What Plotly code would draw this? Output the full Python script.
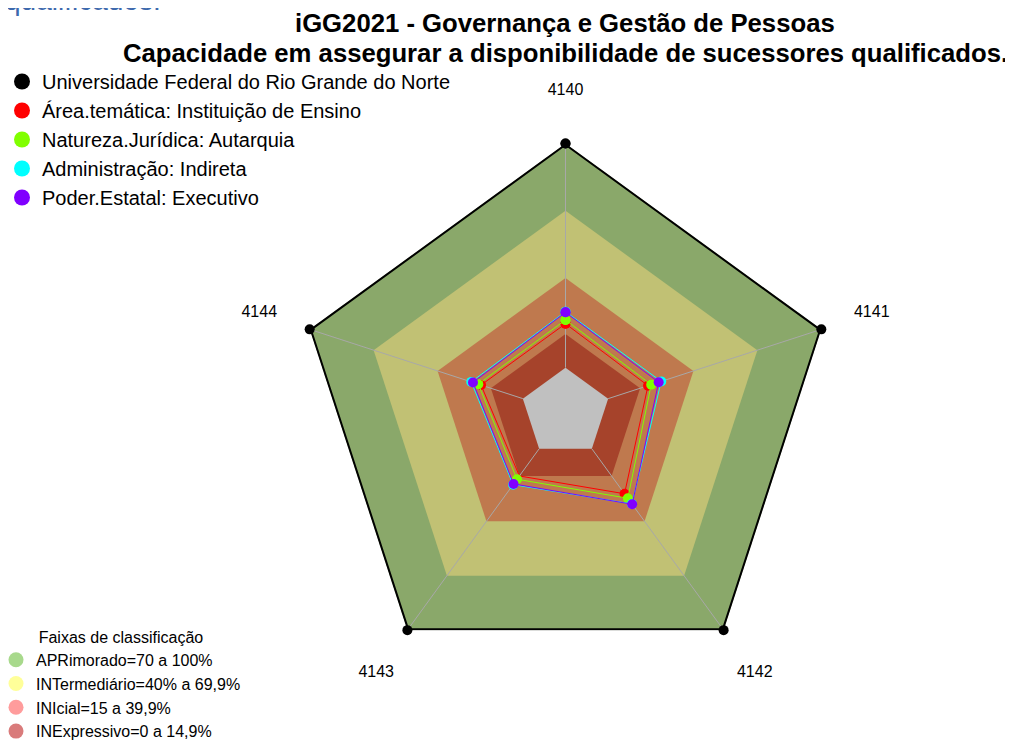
import plotly.graph_objects as go

# ---------------- data ----------------
categories = ["4140", "4141", "4142", "4143", "4144"]

series_names = [
    "Universidade Federal do Rio Grande do Norte",
    "Área.temática: Instituição de Ensino",
    "Natureza.Jurídica: Autarquia",
    "Administração: Indireta",
    "Poder.Estatal: Executivo",
]
ufrn = [100, 100, 100, 100, 100]
area_tematica = [19.6, 18.7, 24.8, 15.0, 19.6]
natureza_juridica = [21.3, 20.2, 27.3, 16.8, 20.9]
administracao = [25.0, 24.9, 30.4, 19.8, 24.2]
poder_estatal = [24.7, 23.7, 30.6, 19.4, 23.4]
series_values = [ufrn, area_tematica, natureza_juridica, administracao, poder_estatal]
series_colors = ["#000000", "#ff0000", "#80ff00", "#00ffff", "#8000ff"]

band_names = [
    "APRimorado=70 a 100%",
    "INTermediário=40% a 69,9%",
    "INIcial=15 a 39,9%",
    "INExpressivo=0 a 14,9%",
]
band_upper = [100, 70, 40, 15, 0]          # outer edge of each filled ring
band_fill_colors = ["#8aa86a", "#c1c174", "#bf794e", "#a6432b", "#c0c0c0"]
band_legend_colors = ["#a8d98c", "#ffff99", "#ff9c9c", "#d97b7b"]

radial_range = [-20, 100]

title_line1 = "iGG2021 - Governança e Gestão de Pessoas"
title_line2 = "Capacidade em assegurar a disponibilidade de sucessores qualificados."
legend2_title = "Faixas de classificação"
cut_text = "qualificados."

FONT = "Arial, Liberation Sans, sans-serif"

W, H = 1013, 740
OFF = 8                              # page body margin (screen = figure + OFF)
cx, cy, R = 565.5 - OFF, 412.5 - OFF, 269   # radar centre / radius (figure px)
R_LAB = 332                          # radius of the label overlay
LABEL_DIST = 322                     # label distance from centre (px)

theta_closed = categories + [categories[0]]

fig = go.Figure()

# bands (filled pentagons, largest first)
for lim, col in zip(band_upper, band_fill_colors):
    fig.add_trace(go.Scatterpolar(
        r=[lim] * (len(categories) + 1), theta=theta_closed,
        mode="lines", fill="toself", fillcolor=col,
        line=dict(color=col, width=0), showlegend=False, hoverinfo="skip"))

# spokes
sp_theta, sp_r = [], []
for c in categories:
    sp_theta += [c, c, None]
    sp_r += [0, 100, None]
fig.add_trace(go.Scatterpolar(
    r=sp_r, theta=sp_theta, mode="lines",
    line=dict(color="#a8a8a8", width=1), showlegend=False, hoverinfo="skip"))

# data series
for i, (name, vals, col) in enumerate(zip(series_names, series_values, series_colors)):
    fig.add_trace(go.Scatterpolar(
        r=vals + [vals[0]], theta=theta_closed, mode="lines+markers",
        line=dict(color=col, width=4 if i == 0 else 1),
        marker=dict(color=col, size=10),
        name=name, showlegend=False))

# category labels on an overlay polar
fig.add_trace(go.Scatterpolar(
    r=[LABEL_DIST] * len(categories), theta=categories, mode="text",
    text=categories, textposition="middle center",
    textfont=dict(family=FONT, size=16, color="#000000"),
    cliponaxis=False, showlegend=False, hoverinfo="skip", subplot="polar2"))

# legend 1 entries
for name, col in zip(series_names, series_colors):
    fig.add_trace(go.Scatterpolar(
        r=[None], theta=[None], mode="markers",
        marker=dict(color=col, size=16), name=name, legend="legend"))

# legend 2 entries
for name, col in zip(band_names, band_legend_colors):
    fig.add_trace(go.Scatterpolar(
        r=[None], theta=[None], mode="markers",
        marker=dict(color=col, size=15), name=name, legend="legend2"))

hidden_radial = dict(showgrid=False, showline=False, showticklabels=False, ticks="")
hidden_angular = dict(type="category", direction="clockwise", rotation=90,
                      showgrid=False, showline=False, showticklabels=False,
                      ticks="", categoryorder="array", categoryarray=categories)

fig.update_layout(
    width=W, height=H,
    margin=dict(l=0, r=0, t=0, b=0, autoexpand=False),
    paper_bgcolor="white",
    font=dict(family=FONT, color="#000000"),
    polar=dict(
        domain=dict(x=[(cx - R) / W, (cx + R) / W],
                    y=[1 - (cy + R) / H, 1 - (cy - R) / H]),
        gridshape="linear",
        bgcolor="white",
        radialaxis=dict(range=radial_range, **hidden_radial),
        angularaxis=hidden_angular,
    ),
    polar2=dict(
        domain=dict(x=[(cx - R_LAB) / W, (cx + R_LAB) / W],
                    y=[1 - (cy + R_LAB) / H, 1 - (cy - R_LAB) / H]),
        gridshape="linear",
        bgcolor="rgba(0,0,0,0)",
        radialaxis=dict(range=[0, R_LAB], **hidden_radial),
        angularaxis=hidden_angular,
    ),
    legend=dict(x=-6 / W, y=1 - 54 / H, xanchor="left", yanchor="top",
                font=dict(family=FONT, size=20, color="#000000"),
                bgcolor="rgba(0,0,0,0)", itemclick=False),
    legend2=dict(x=-12 / W, y=0, xanchor="left", yanchor="bottom",
                 title=dict(text=legend2_title, side="top center",
                            font=dict(family=FONT, size=16, color="#000000")),
                 font=dict(family=FONT, size=16, color="#000000"),
                 bgcolor="rgba(0,0,0,0)", itemclick=False),
    annotations=[
        dict(text="<b>" + title_line1 + "</b>", x=(565 - OFF) / W, y=1 - (23 - OFF) / H,
             xref="paper", yref="paper", xanchor="center", yanchor="middle",
             showarrow=False, font=dict(family=FONT, size=25.7, color="#000000")),
        dict(text="<b>" + title_line2 + "</b>", x=(565 - OFF) / W, y=1 - (53 - OFF) / H,
             xref="paper", yref="paper", xanchor="center", yanchor="middle",
             showarrow=False, font=dict(family=FONT, size=25.7, color="#000000")),
        dict(text=cut_text, x=(3 - OFF) / W, y=1 - 10 / H, xref="paper", yref="paper",
             xanchor="left", yanchor="bottom", showarrow=False,
             font=dict(family=FONT, size=28, color="#3d69ad")),
    ],
)

fig.write_html("out.html")
